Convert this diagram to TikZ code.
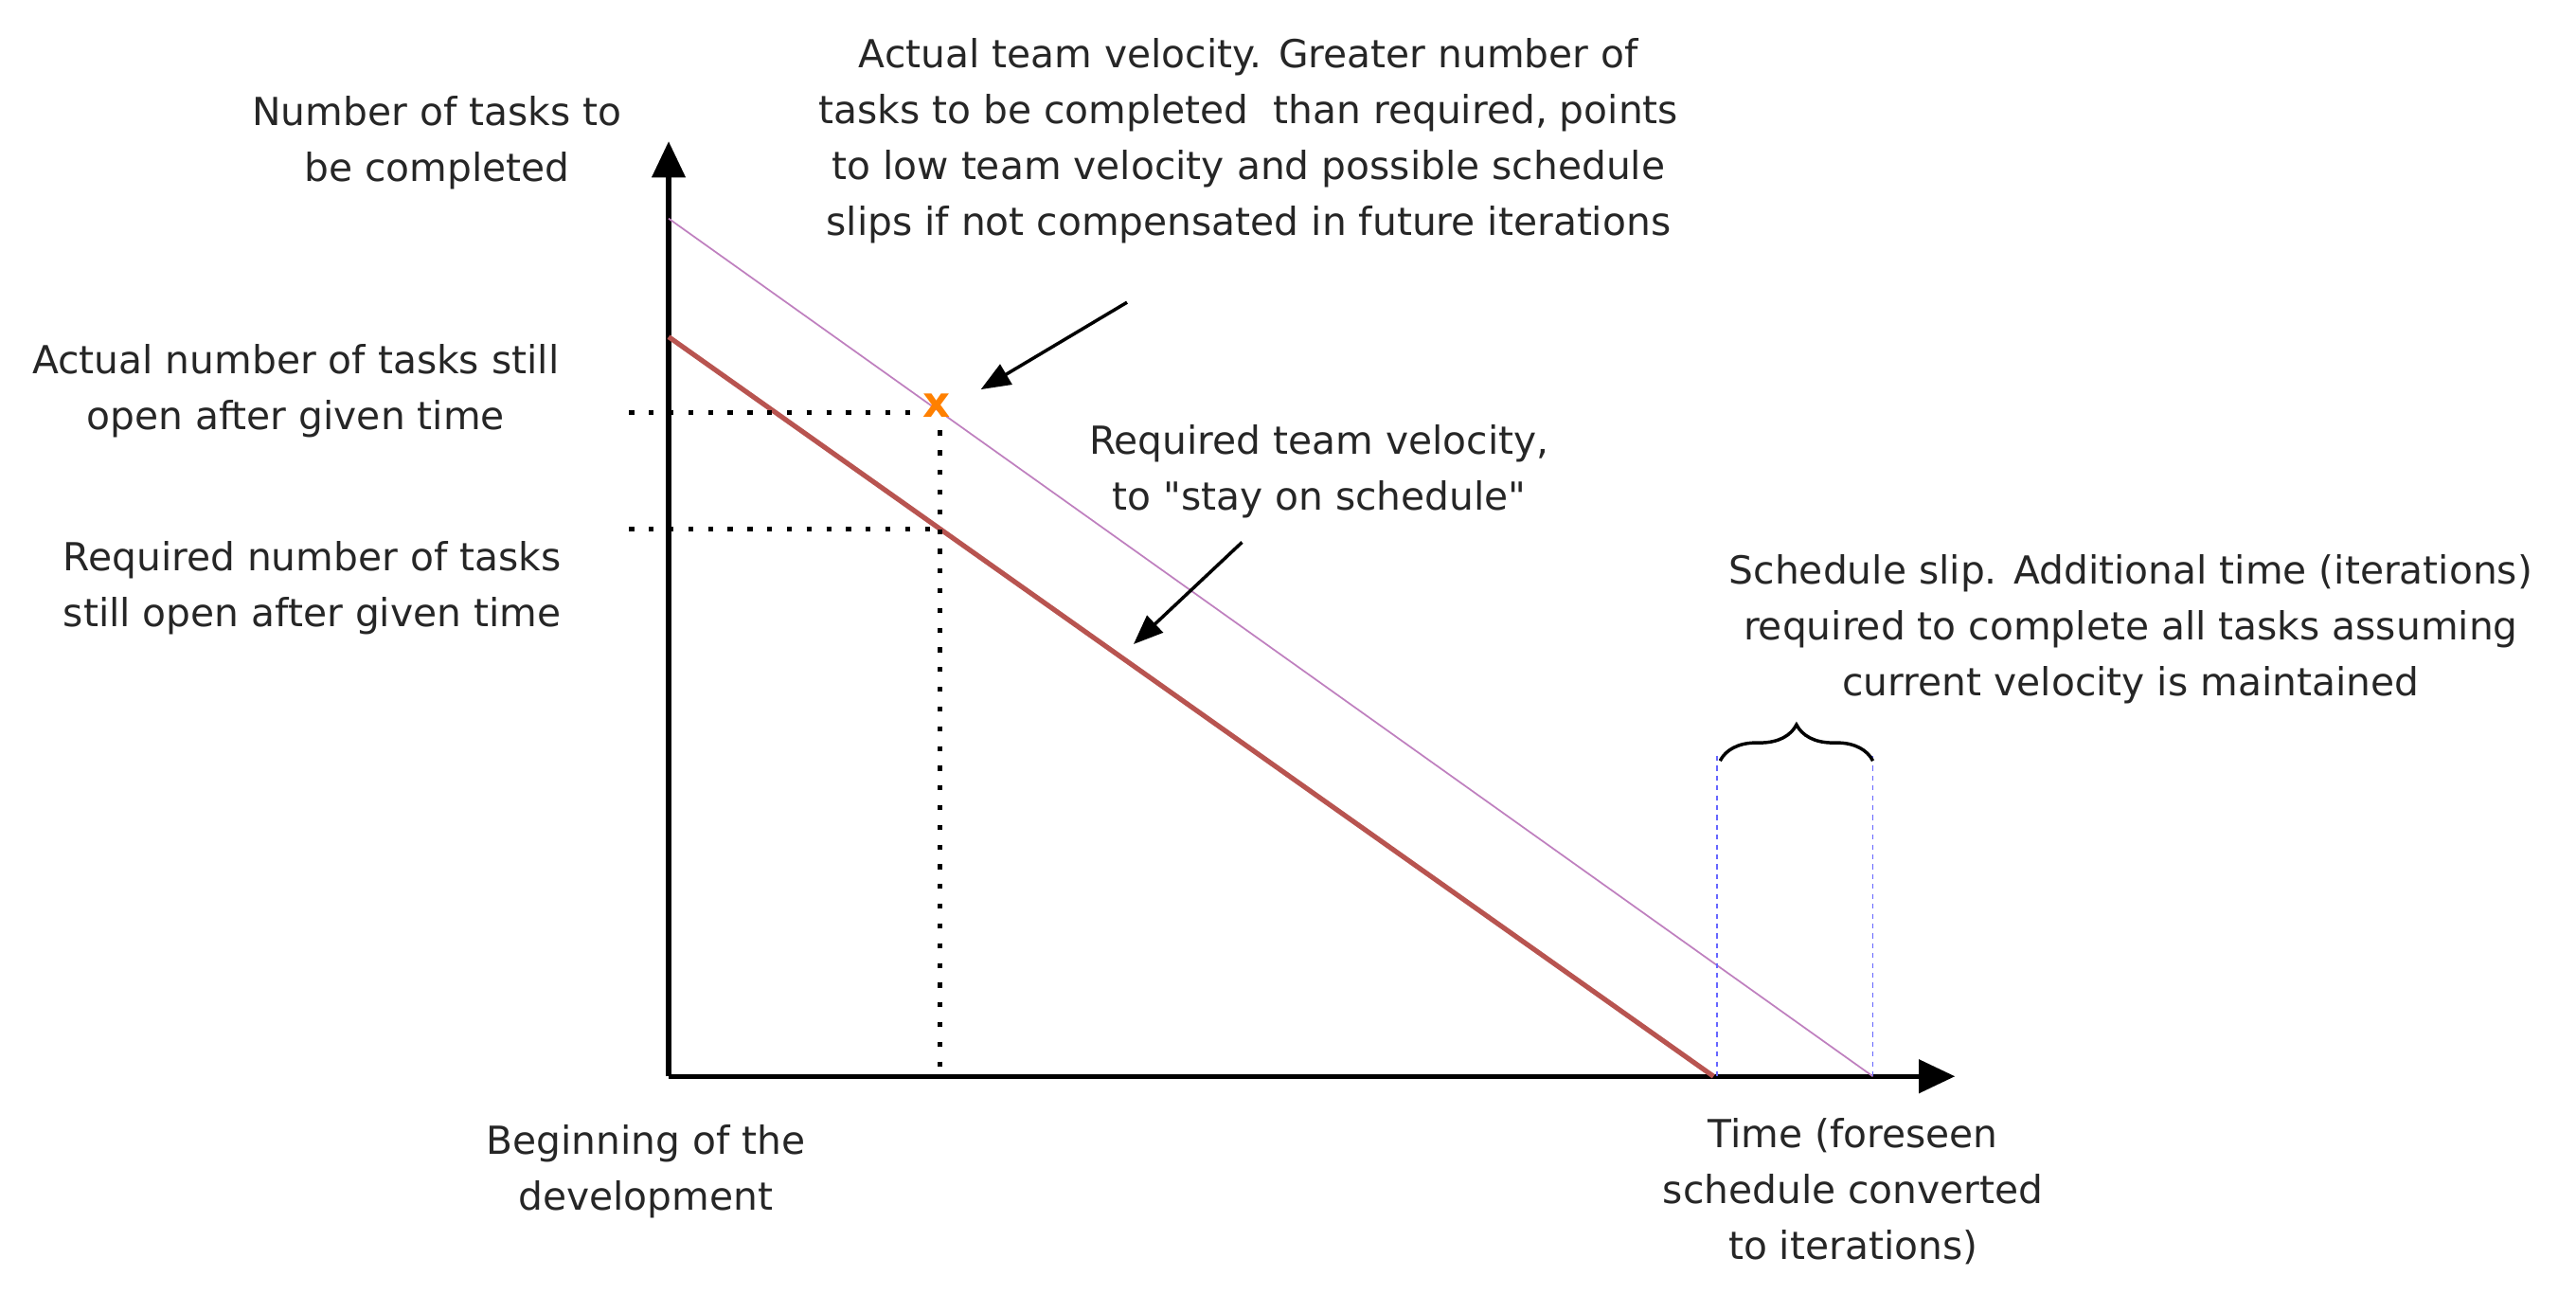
\documentclass[tikz,border=0pt]{standalone}
\usepackage{fontspec}
\setmainfont{DejaVu Sans}
\usetikzlibrary{arrows.meta,decorations.pathreplacing}
\begin{document}
\begin{tikzpicture}[x=1pt,y=-1pt,
  lbl/.style={align=center,font=\fontsize{23.5}{34}\selectfont,text=black!85,inner sep=0pt},
  axis/.style={line width=3pt,-{Triangle[length=22pt,width=20pt]}},
  dots/.style={line width=3pt,dash pattern=on 3pt off 9pt},
  ann/.style={line width=2pt,-{Triangle[length=18pt,width=14pt]}}]
\useasboundingbox (0,0) rectangle (1568,787);
\definecolor{redl}{HTML}{B85450}
\coordinate (O) at (407,655);
\coordinate (Ytop) at (407,86);
\coordinate (Xend) at (1190,655);
\draw[axis] (O) -- (Ytop);
\draw[axis] (O) -- (Xend);
\coordinate (P1) at (407,133); \coordinate (P2) at (1140,655);
\draw[violet!50,line width=1pt] (P1) -- (P2);
\coordinate (R1) at (407,205); \coordinate (R2) at (1043,655);
\draw[redl,line width=3pt] (R1) -- (R2);
\node[text=orange,font=\fontsize{26}{26}\selectfont\bfseries] (X) at (570,247) {x};
\coordinate (h1a) at (383,251); \coordinate (h1b) at (560,251);
\coordinate (h2a) at (383,322); \coordinate (h2b) at (570,322);
\coordinate (va) at (572,262); \coordinate (vb) at (572,655);
\draw[dots] (h1a) -- (h1b);
\draw[dots] (h2a) -- (h2b);
\draw[dots] (va) -- (vb);
\coordinate (b1a) at (1045,460); \coordinate (b1b) at (1045,655);
\coordinate (b2a) at (1140,460); \coordinate (b2b) at (1140,655);
\draw[blue!60,dashed,line width=1pt] (b1a) -- (b1b);
\draw[blue!60,dashed,line width=1pt] (b2a) -- (b2b);
\coordinate (brA) at (1047,463); \coordinate (brB) at (1140,463);
\draw[line width=2pt,decorate,decoration={brace,amplitude=22pt}] (brA) -- (brB);
\node[lbl] (ylab) at (266,87) {Number of tasks to\\be completed};
\node[lbl] (actv) at (760,86) {Actual team velocity. Greater number of\\tasks to be completed\ \ than required, points\\to low team velocity and possible schedule\\slips if not compensated in future iterations};
\node[lbl] (actn) at (180,238) {Actual number of tasks still\\open after given time};
\node[lbl] (reqn) at (190,358) {Required number of tasks\\still open after given time};
\node[lbl] (reqv) at (803,287) {Required team velocity,\\to \textquotedbl stay on schedule\textquotedbl};
\node[lbl] (slip) at (1297,383) {Schedule slip. Additional time (iterations)\\required to complete all tasks assuming\\current velocity is maintained};
\node[lbl] (beg) at (393,713) {Beginning of the\\development};
\node[lbl] (time) at (1128,725) {Time (foreseen\\schedule converted\\to iterations)};
\coordinate (a1s) at (686,184); \coordinate (a1e) at (597,237);
\coordinate (a2s) at (756,330); \coordinate (a2e) at (690,392);
\draw[ann] (a1s) -- (a1e);
\draw[ann] (a2s) -- (a2e);
\end{tikzpicture}
\end{document}
